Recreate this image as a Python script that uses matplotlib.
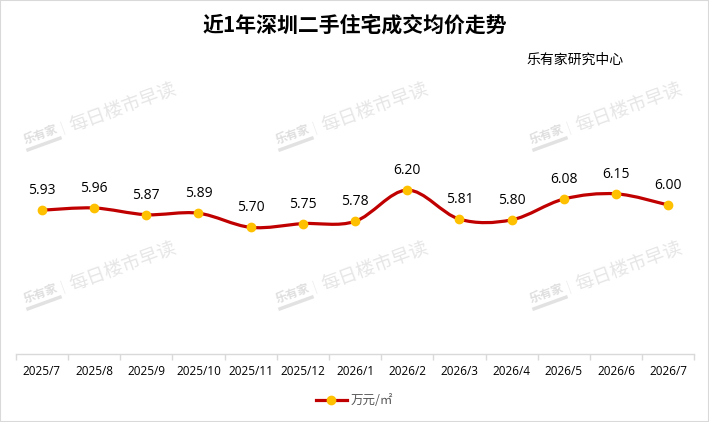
import numpy as np
import matplotlib
matplotlib.use('Agg')
from matplotlib import pyplot as plt
from matplotlib.path import Path
from matplotlib.patches import PathPatch, Rectangle
from matplotlib.lines import Line2D

plt.rcParams['font.family'] = ['Noto Sans CJK SC', 'DejaVu Sans']

months = ['2025/7', '2025/8', '2025/9', '2025/10', '2025/11', '2025/12', '2026/1',
          '2026/2', '2026/3', '2026/4', '2026/5', '2026/6', '2026/7']
prices = [5.93, 5.96, 5.87, 5.89, 5.70, 5.75, 5.78, 6.20, 5.81, 5.80, 6.08, 6.15, 6.00]

title = '近1年深圳二手住宅成交均价走势'
source = '乐有家研究中心'
unit = '万元/㎡'

RED = '#C00000'
GOLD = '#FFC000'

W, H = 709, 422
fig = plt.figure(figsize=(7.09, 4.22), dpi=100)
ax = fig.add_axes([15.7 / W, 68 / H, 678.6 / W, 223.5 / H])

# 워터마크
wm_color = '#e6e6e6'
ang = np.deg2rad(20)
for cy in [107, 266]:
    for cx in [123, 375, 629]:
        fig.text(cx / W, 1 - cy / H, '每日楼市早读', fontsize=13.5, color=wm_color,
                 rotation=20, ha='center', va='center', zorder=0)
        lx, ly = cx - 82, cy + 28
        fig.text(lx / W, 1 - ly / H, '乐有家', fontsize=8.5, color='#dedede',
                 weight='bold', style='italic', rotation=20, ha='center', va='center', zorder=0)
        # 로고 밑줄
        bx, by = lx + 3, ly + 9
        dx, dy = 17 * np.cos(ang), 17 * np.sin(ang)
        fig.add_artist(Line2D([(bx - dx) / W, (bx + dx) / W], [1 - (by + dy) / H, 1 - (by - dy) / H],
                              transform=fig.transFigure, color='#e2e2e2', lw=2.5, zorder=0))
        fig.text((cx - 60) / W, 1 - (cy + 21) / H, '|', fontsize=9, color='#ececec',
                 rotation=20, ha='center', va='center', zorder=0)

x = np.arange(len(prices))
y = np.array(prices)

# 부드러운 선 (Catmull-Rom -> Bezier)
verts = [(x[0], y[0])]
codes = [Path.MOVETO]
n = len(x)
for i in range(n - 1):
    p0 = np.array([x[max(i - 1, 0)], y[max(i - 1, 0)]])
    p1 = np.array([x[i], y[i]])
    p2 = np.array([x[i + 1], y[i + 1]])
    p3 = np.array([x[min(i + 2, n - 1)], y[min(i + 2, n - 1)]])
    c1 = p1 + (p2 - p0) / 6
    c2 = p2 - (p3 - p1) / 6
    verts += [tuple(c1), tuple(c2), tuple(p2)]
    codes += [Path.CURVE4] * 3
ax.add_patch(PathPatch(Path(verts, codes), fill=False, edgecolor=RED, lw=2.3,
                       capstyle='round', zorder=2))
ax.plot(x, y, linestyle='none', marker='o', ms=6, color=GOLD, mec=GOLD, zorder=3)
line_h, = ax.plot([], [], color=RED, lw=2.3, marker='o', ms=6, mfc=GOLD, mec=GOLD)

for xi, yi in zip(x, y):
    ax.annotate(f'{yi:.2f}', (xi, yi), xytext=(0, 14), textcoords='offset points',
                ha='center', va='center', fontsize=10, family='Open Sans', color='#000000')

ax.set_xlim(-0.5, n - 0.5)
ax.set_ylim(4.0, 7.0)
ax.set_xticks(np.arange(-0.5, n, 1))
ax.set_xticklabels([])
ax.set_xticks(x, minor=True)
ax.set_xticklabels(months, minor=True, fontsize=8.5, family='Open Sans')
ax.tick_params(axis='x', which='major', length=4, color='#d9d9d9', width=1)
ax.tick_params(axis='x', which='minor', length=0, pad=8)
ax.set_yticks([])
for s in ['top', 'left', 'right']:
    ax.spines[s].set_visible(False)
ax.spines['bottom'].set_color('#d9d9d9')
ax.spines['bottom'].set_linewidth(1)
ax.patch.set_alpha(0)

fig.text(0.5, 1 - 25 / H, title, fontsize=15, weight='bold', ha='center', va='center')
fig.text(575 / W, 1 - 60 / H, source, fontsize=10, ha='center', va='center')

fig.legend([line_h], [unit], loc='center', bbox_to_anchor=(0.5, 1 - 401 / H),
           frameon=False, fontsize=9, labelcolor='#595959', handlelength=2.5,
           handletextpad=0.3)

fig.patches.append(Rectangle((0, 0), 1, 1, transform=fig.transFigure, fill=False,
                             edgecolor='#d9d9d9', lw=1.5))

fig.savefig('out.png', dpi=100)
